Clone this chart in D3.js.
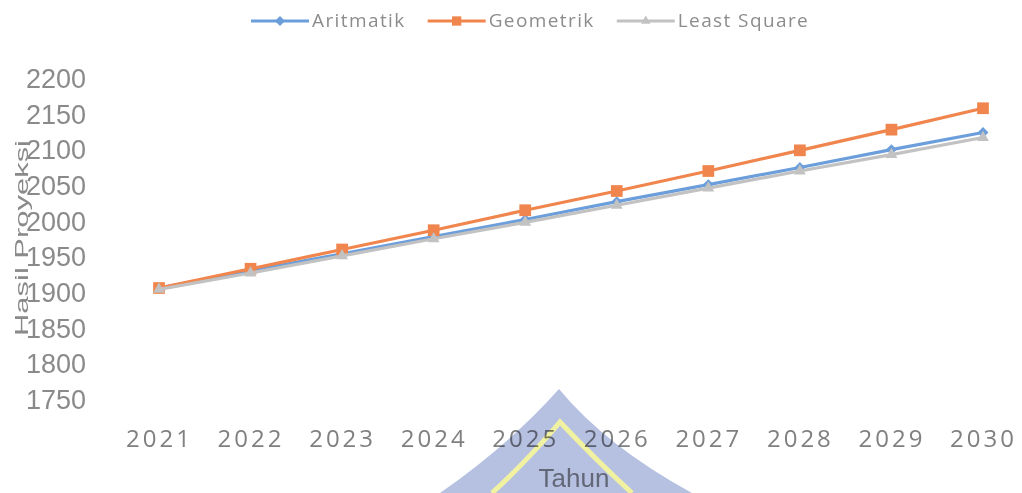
<!DOCTYPE html>
<html>
<head>
<meta charset="utf-8">
<script src="https://cdn.jsdelivr.net/npm/d3@7"></script>
<style>
  html, body { margin: 0; padding: 0; background: #fff; }
  svg { display: block; }
</style>
</head>
<body>
<div class="chart-wrap"></div>
<script>
// values
var years = [2021, 2022, 2023, 2024, 2025, 2026, 2027, 2028, 2029, 2030];
var aritmatik = [1907, 1931, 1955, 1979, 2003, 2028, 2052, 2076, 2101, 2125];
var geometrik = [1907, 1934, 1961, 1988, 2016, 2043, 2071, 2100, 2129, 2159];
var leastSquare = [1905, 1928, 1952, 1976, 1999, 2023, 2047, 2071, 2094, 2118];
var yTicks = [1750, 1800, 1850, 1900, 1950, 2000, 2050, 2100, 2150, 2200];
var seriesNames = ["Aritmatik", "Geometrik", "Least Square"];

var width = 1022, height = 493;

var series = [
    {name: seriesNames[0], values: aritmatik, color: "#6b9edb", marker: "diamond"},
    {name: seriesNames[1], values: geometrik, color: "#f0864d", marker: "square"},
    {name: seriesNames[2], values: leastSquare, color: "#c2c2c2", marker: "triangle"}
];

var svg = d3.select(".chart-wrap")
  .append("svg")
    .attr("width", width)
    .attr("height", height);

// scales
var xScale = d3.scalePoint().domain(years).range([159, 983]),
    yScale = d3.scaleLinear().domain([1750, 2200]).range([400, 79]);

var symbolSize = {diamond: 75, square: 175, triangle: 100};
var symbolType = {diamond: d3.symbolDiamond2, square: d3.symbolSquare2, triangle: d3.symbolTriangle2};

// y axis labels (no axis line)
var yAxis = d3.axisLeft(yScale).tickValues(yTicks).tickFormat(d3.format("d"))
    .tickSize(0).tickPadding(0);
var gy = svg.append("g")
    .attr("transform", "translate(86,0)")
    .call(yAxis);
gy.select(".domain").remove();
gy.selectAll("text")
    .attr("fill", "#8a8a8a")
    .style("font-family", "'Liberation Sans', Arial, sans-serif")
    .style("font-size", "27px");

// x axis labels
var xAxis = d3.axisBottom(xScale).tickSize(0).tickPadding(0);
var gx = svg.append("g")
    .attr("transform", "translate(0,430)")
    .call(xAxis);
gx.select(".domain").remove();
gx.selectAll("text")
    .attr("fill", "#808080")
    .attr("dy", "0.71em")
    .style("font-family", "'Open Sans', sans-serif")
    .style("font-size", "24px")
    .style("letter-spacing", "3px");

// axis titles
svg.append("text")
    .attr("transform", "translate(28,238) rotate(-90)")
    .attr("text-anchor", "middle")
    .attr("textLength", 196)
    .attr("lengthAdjust", "spacingAndGlyphs")
    .attr("fill", "#8a8a8a")
    .style("font-family", "'Liberation Sans', Arial, sans-serif")
    .style("font-size", "19px")
    .text("Hasil Proyeksi");

svg.append("text")
    .attr("x", 574)
    .attr("y", 487)
    .attr("text-anchor", "middle")
    .attr("fill", "#8a8a8a")
    .style("font-family", "'Liberation Sans', Arial, sans-serif")
    .style("font-size", "26px")
    .text("Tahun");

// lines + markers
var line = d3.line()
    .x(function(d, i) { return xScale(years[i]); })
    .y(function(d) { return yScale(d); });

series.forEach(function(s) {
    var g = svg.append("g").attr("class", "series");
    g.append("path")
        .datum(s.values)
        .attr("fill", "none")
        .attr("stroke", s.color)
        .attr("stroke-width", 3.2)
        .attr("d", line);
    g.selectAll(".dot")
        .data(s.values)
      .enter().append("path")
        .attr("class", "dot")
        .attr("transform", function(d, i) {
            return "translate(" + xScale(years[i]) + "," + yScale(d) + ")";
        })
        .attr("d", d3.symbol().type(symbolType[s.marker]).size(symbolSize[s.marker]))
        .attr("fill", s.color);
});

// legend
var legend = svg.append("g").attr("class", "legend");
var lx = 251, ly = 21;
series.forEach(function(s) {
    var item = legend.append("g").attr("transform", "translate(" + lx + "," + ly + ")");
    item.append("line")
        .attr("x1", 0).attr("x2", 58)
        .attr("stroke", s.color)
        .attr("stroke-width", 3);
    item.append("path")
        .attr("transform", "translate(29,0)")
        .attr("d", d3.symbol().type(symbolType[s.marker]).size(s.marker == "square" ? 110 : 65))
        .attr("fill", s.color);
    var t = item.append("text")
        .attr("x", 61)
        .attr("y", 6)
        .attr("fill", "#8c8c8c")
        .style("font-family", "'Open Sans', sans-serif")
        .style("font-size", "19px")
        .style("letter-spacing", "1.4px")
        .text(s.name);
    lx += 61 + t.node().getComputedTextLength() + 22;
});

// watermark (scan stamp), multiplied over everything
var wm = svg.append("g").style("mix-blend-mode", "multiply");
wm.append("path")
    .attr("d", "M440,493 Q508,446 559,389 Q606,446 692,493 Z")
    .attr("fill", "#b6c0e0");
wm.append("path")
    .attr("d", "M492,493 Q528,460 560,422 Q596,460 632,493")
    .attr("fill", "none")
    .attr("stroke", "#f1f1a2")
    .attr("stroke-width", 5);
</script>
</body>
</html>
